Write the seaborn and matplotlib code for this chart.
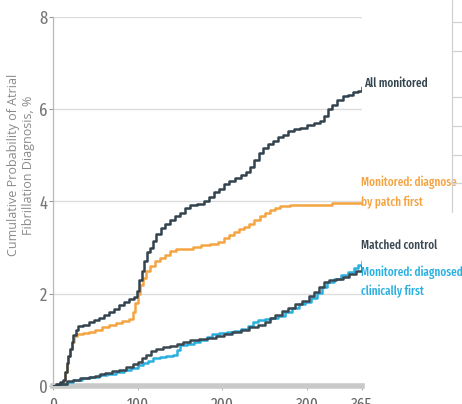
import matplotlib
matplotlib.use("Agg")
import matplotlib.pyplot as plt
from matplotlib.lines import Line2D
import seaborn as sns
import pandas as pd

# Cumulative AF diagnosis (%), step points by day after enrolment
all_days = [0, 4, 8, 12, 14, 16, 18, 20, 22, 24, 27, 30, 36, 42, 48, 54, 60, 66, 72, 78, 84,
            90, 96, 99, 102, 105, 108, 111, 114, 118, 122, 127, 132, 138, 144, 150, 156, 162,
            170, 178, 184, 190, 196, 202, 208, 215, 222, 228, 233, 238, 243, 248, 254, 260,
            266, 272, 278, 285, 292, 300, 308, 315, 320, 325, 330, 336, 342, 348, 354, 360, 365]
all_pct = [0, 0.04, 0.08, 0.13, 0.3, 0.5, 0.65, 0.8, 0.95, 1.1, 1.22, 1.3, 1.33, 1.38, 1.43,
           1.48, 1.55, 1.6, 1.68, 1.75, 1.82, 1.88, 1.93, 2.05, 2.3, 2.5, 2.7, 2.9, 3.0, 3.15,
           3.3, 3.42, 3.52, 3.6, 3.68, 3.75, 3.85, 3.92, 3.95, 4.0, 4.1, 4.2, 4.28, 4.38, 4.45,
           4.5, 4.58, 4.65, 4.75, 4.9, 5.05, 5.15, 5.25, 5.32, 5.4, 5.45, 5.52, 5.57, 5.6,
           5.65, 5.7, 5.75, 5.85, 6.0, 6.1, 6.2, 6.28, 6.3, 6.38, 6.4, 6.48]

patch_days = [0, 6, 12, 14, 16, 18, 20, 22, 25, 28, 35, 42, 50, 58, 66, 74, 82, 90, 94, 97,
              100, 103, 106, 110, 115, 120, 126, 132, 138, 145, 155, 165, 175, 185, 195, 202,
              208, 214, 220, 226, 232, 238, 244, 250, 256, 262, 268, 280, 300, 326, 330, 365]
patch_pct = [0, 0.04, 0.1, 0.3, 0.5, 0.65, 0.8, 0.95, 1.08, 1.13, 1.15, 1.18, 1.22, 1.27,
             1.32, 1.37, 1.4, 1.45, 1.6, 1.8, 2.0, 2.2, 2.35, 2.5, 2.6, 2.7, 2.78, 2.85, 2.92,
             2.96, 2.98, 3.02, 3.05, 3.08, 3.12, 3.2, 3.28, 3.33, 3.4, 3.45, 3.52, 3.6, 3.68,
             3.76, 3.82, 3.86, 3.9, 3.92, 3.92, 3.93, 3.97, 3.97]

ctrl_days = [0, 8, 16, 24, 32, 42, 50, 56, 62, 70, 78, 86, 94, 100, 105, 110, 116, 122, 130,
             138, 146, 154, 162, 172, 182, 192, 202, 212, 222, 232, 242, 250, 256, 262, 270,
             278, 286, 294, 302, 308, 314, 320, 326, 334, 342, 350, 358, 365]
ctrl_pct = [0, 0.04, 0.1, 0.14, 0.18, 0.2, 0.22, 0.27, 0.29, 0.32, 0.35, 0.42, 0.48, 0.52,
            0.6, 0.68, 0.75, 0.8, 0.84, 0.87, 0.92, 0.96, 0.99, 1.02, 1.05, 1.09, 1.13, 1.17,
            1.22, 1.27, 1.32, 1.38, 1.48, 1.55, 1.62, 1.7, 1.77, 1.85, 1.95, 2.03, 2.15, 2.25,
            2.3, 2.33, 2.36, 2.43, 2.5, 2.6]

clin_days = [0, 8, 16, 24, 34, 44, 54, 64, 74, 84, 92, 100, 106, 112, 118, 126, 134, 142,
             146, 150, 158, 166, 174, 182, 188, 196, 205, 214, 222, 230, 236, 242, 250, 258,
             266, 274, 282, 290, 298, 305, 312, 318, 324, 332, 340, 348, 355, 360, 365]
clin_pct = [0, 0.04, 0.08, 0.13, 0.17, 0.2, 0.23, 0.27, 0.3, 0.35, 0.4, 0.45, 0.5, 0.55, 0.6,
            0.63, 0.65, 0.68, 0.78, 0.88, 0.92, 0.96, 1.0, 1.06, 1.12, 1.15, 1.16, 1.19, 1.24,
            1.3, 1.38, 1.43, 1.45, 1.48, 1.52, 1.6, 1.7, 1.78, 1.83, 1.9, 2.02, 2.15, 2.25,
            2.32, 2.4, 2.48, 2.55, 2.62, 2.72]

series_names = ["Monitored: diagnosed by patch first", "Monitored: diagnosed clinically first",
                "Matched control", "All monitored"]
colors = ["#f5a442", "#29b0e0", "#3a4852", "#33434e"]
palette = dict(zip(series_names, colors))

y_ticks = [0, 2, 4, 6, 8]
x_ticks = [0, 100, 200, 300, 365]

frames = []
for name, d, p in zip(series_names,
                      [patch_days, clin_days, ctrl_days, all_days],
                      [patch_pct, clin_pct, ctrl_pct, all_pct]):
    frames.append(pd.DataFrame({"day": d, "pct": p, "group": name}))
df = pd.concat(frames, ignore_index=True)

sns.set_theme(style="white")
narrow = ["Fira Sans Extra Condensed", "Roboto Condensed", "DejaVu Sans"]
plt.rcParams["font.family"] = narrow

fig = plt.figure(figsize=(4.62, 4.04), dpi=100)
ax = fig.add_axes([53 / 462, 1 - 386 / 404, (362 - 53) / 462, (386 - 17) / 404])

ax.set_xlim(0, 365)
ax.set_ylim(0, 8)
for yv in y_ticks[1:]:
    ax.axhline(yv, color="#dcdcdc", lw=1.0, zorder=0)

sns.lineplot(data=df, x="day", y="pct", hue="group", hue_order=series_names,
             palette=palette, drawstyle="steps-post", linewidth=1.8,
             legend=False, ax=ax, zorder=3)

ax.set_xlabel("")
ax.set_ylabel("")
ax.set_xticks(x_ticks)
ax.set_xticklabels([str(v) for v in x_ticks])
ax.set_yticks(y_ticks)
ax.set_yticklabels([str(v) for v in y_ticks])
ax.tick_params(axis="y", colors="#9a9a9a", labelcolor="#777777", labelsize=13,
               length=3, width=0.8, direction="out", left=True, pad=1)
ax.tick_params(axis="x", colors="#b5b5b5", labelcolor="#666666", labelsize=12,
               length=3, width=0.8, direction="out", bottom=True, pad=5)

for side in ["top", "right"]:
    ax.spines[side].set_visible(False)
ax.spines["left"].set_color("#b8b8b8")
ax.spines["left"].set_linewidth(0.9)
ax.spines["bottom"].set_color("#c9c9c9")
ax.spines["bottom"].set_linewidth(4)

# end-of-line labels
label_kw = dict(fontsize=8.8, fontweight="medium", ha="left", va="center",
                clip_on=False, family=narrow, linespacing=1.55)
ax.text(367, 6.55, "All monitored", color=palette["All monitored"], **label_kw)
ax.text(364, 4.2, "Monitored: diagnose\nby patch first",
        color=palette["Monitored: diagnosed by patch first"], **label_kw)
ax.text(364, 3.04, "Matched control", color=palette["Matched control"], **label_kw)
ax.text(364, 2.27, "Monitored: diagnosed\nclinically first",
        color=palette["Monitored: diagnosed clinically first"], **label_kw)

fig.text(21 / 462, 1 - 165 / 404,
         "Cumulative Probability of Atrial\nFibrillation Diagnosis, %",
         rotation=90, ha="center", va="center", multialignment="center",
         fontsize=9, color="#8a8a8a", family=["Open Sans", "DejaVu Sans"])

# edge of the neighbouring table panel
grey = "#d2d2d2"
fig.add_artist(Line2D([452 / 462, 452 / 462], [1, 1 - 212 / 404],
                      transform=fig.transFigure, color=grey, lw=0.9))
for py in [22, 51, 97, 126, 155, 183]:
    fig.add_artist(Line2D([452 / 462, 1], [1 - py / 404, 1 - py / 404],
                          transform=fig.transFigure, color=grey, lw=0.9))

fig.savefig("out.png", dpi=100)
